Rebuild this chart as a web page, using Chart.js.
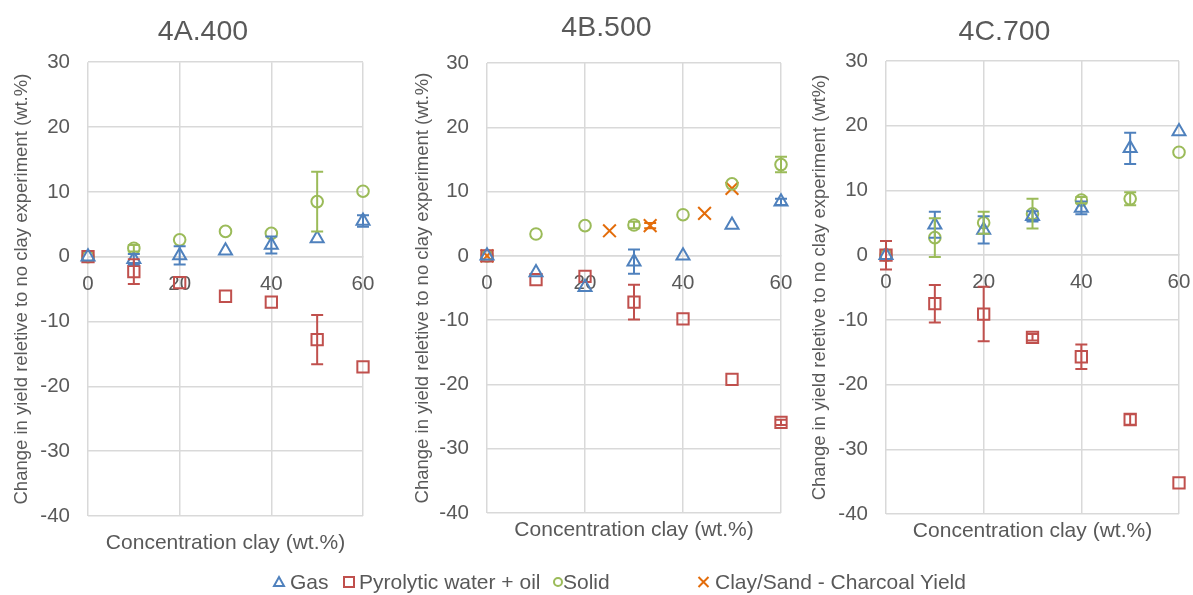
<!DOCTYPE html>
<html>
<head>
<meta charset="utf-8">
<script src="https://cdn.jsdelivr.net/npm/chart.js@4/dist/chart.umd.min.js"></script>
<style>
html, body { margin:0; padding:0; background:#fff; overflow:hidden; width:1193px; height:595px; position:relative; font-family:"Liberation Sans", Arial, sans-serif; }
canvas { position:absolute; top:0; }
#legend span { position:absolute; top:570px; font-size:21px; line-height:24px; color:#595959; white-space:nowrap; }
#legend svg { position:absolute; left:0; top:0; }
</style>
</head>
<body>
<canvas id="c400" width="390" height="560" style="left:8px"></canvas>
<canvas id="c500" width="387" height="560" style="left:413px"></canvas>
<canvas id="c700" width="389" height="560" style="left:810px"></canvas>
<div id="legend">
  <svg width="1193" height="595">
    <polygon points="274,586 284,586 279,577" fill="none" stroke="#4F81BD" stroke-width="2"/>
    <rect x="344" y="577" width="10" height="10" fill="none" stroke="#C0504D" stroke-width="2"/>
    <circle cx="558" cy="582" r="4" fill="none" stroke="#9BBB59" stroke-width="2"/>
    <path d="M698.5,577 L708.5,587 M708.5,577 L698.5,587" stroke="#E36C0A" stroke-width="2"/>
  </svg>
  <span style="left:290px">Gas</span>
  <span style="left:359px">Pyrolytic water + oil</span>
  <span style="left:563px">Solid</span>
  <span style="left:715px">Clay/Sand - Charcoal Yield</span>
</div>
<script>
// clay concentration (wt.%)
var clay = [0, 10, 20, 30, 40, 50, 60];

// 4A.400
var gas400 = [0, -0.4, 0.2, 0.9, 1.8, 2.8, 5.5];
var gasErr400 = [0, 0.8, 1.4, 0, 1.3, 0, 0.9];
var pyro400 = [0, -2.3, -4.0, -6.1, -7.0, -12.8, -17.0];
var pyroErr400 = [0, 1.9, 0, 0, 0, 3.8, 0];
var solid400 = [0, 1.3, 2.6, 3.9, 3.6, 8.5, 10.1];
var solidErr400 = [0, 0.5, 0, 0, 0, 4.6, 0];

// 4B.500
var gas500 = [0, -2.6, -4.9, -0.9, 0.0, 4.8, 8.4];
var gasErr500 = [0, 0, 0, 1.9, 0, 0, 0.5];
var pyro500 = [0, -3.7, -3.2, -7.2, -9.8, -19.2, -25.9];
var pyroErr500 = [0, 0, 0, 2.7, 0, 0, 0.4];
var solid500 = [0, 3.4, 4.7, 4.8, 6.4, 11.2, 14.2];
var solidErr500 = [0, 0, 0, 0.5, 0, 0, 1.2];
var charClay500 = [0, 25, 33.3, 44.4, 50];
var charYield500 = [0, 3.9, 4.7, 6.6, 10.5];
var charErr500 = [0, 0, 0.4, 0, 0];

// 4C.700
var gas700 = [0, 4.7, 3.9, 6.0, 7.3, 16.5, 19.1];
var gasErr700 = [0, 2.0, 2.1, 0.8, 1.0, 2.4, 0];
var pyro700 = [0, -7.5, -9.1, -12.7, -15.7, -25.4, -35.2];
var pyroErr700 = [2.2, 2.9, 4.2, 0.5, 1.9, 0.8, 0];
var solid700 = [0, 2.7, 5.0, 6.4, 8.5, 8.7, 15.9];
var solidErr700 = [0, 3.0, 1.7, 2.3, 0.5, 1.0, 0];

var yTicks = [-40, -30, -20, -10, 0, 10, 20, 30];
var xTicks = [0, 20, 40, 60];

var BLUE = '#4F81BD', RED = '#C0504D', GREEN = '#9BBB59', ORANGE = '#E36C0A';
var TEXT = '#595959', GRID = '#D9D9D9';
var FONT = '"Liberation Sans", Arial, sans-serif';

Chart.defaults.font.family = FONT;

// vertical error bars with caps, drawn on the chart's own scales
var errorBars = {
  id: 'errorBars',
  afterDatasetsDraw: function (chart) {
    var ctx = chart.ctx, xs = chart.scales.x, ys = chart.scales.y;
    chart.data.datasets.forEach(function (ds) {
      if (!ds.errors) return;
      ctx.save();
      ctx.strokeStyle = ds.borderColor;
      ctx.lineWidth = 2;
      ds.data.forEach(function (p, i) {
        var e = ds.errors[i];
        if (!e) return;
        var px = xs.getPixelForValue(p.x);
        var top = ys.getPixelForValue(p.y + e);
        var bot = ys.getPixelForValue(p.y - e);
        ctx.beginPath();
        ctx.moveTo(px, top); ctx.lineTo(px, bot);
        ctx.moveTo(px - 6, top); ctx.lineTo(px + 6, top);
        ctx.moveTo(px - 6, bot); ctx.lineTo(px + 6, bot);
        ctx.stroke();
      });
      ctx.restore();
    });
  }
};

function points(xs, ys) {
  return xs.map(function (x, i) { return {x: x, y: ys[i]}; });
}

function series(label, xs, ys, errs, color, style, radius) {
  return {
    label: label,
    data: points(xs, ys),
    errors: errs,
    borderColor: color,
    backgroundColor: 'rgba(0,0,0,0)',
    pointStyle: style,
    pointRadius: radius,
    pointHoverRadius: radius,
    pointBorderWidth: 2,
    showLine: false,
    clip: false
  };
}

function panel(id, p) {
  new Chart(document.getElementById(id), {
    type: 'scatter',
    data: { datasets: p.datasets },
    options: {
      responsive: false,
      animation: false,
      events: [],
      layout: { padding: 0 },
      plugins: {
        legend: { display: false },
        tooltip: { enabled: false },
        title: {
          display: true, text: p.title, color: TEXT,
          font: { size: 28.5, weight: 'normal', lineHeight: 1.2 },
          padding: { top: p.titleTop, bottom: p.titleBottom }
        }
      },
      scales: {
        x: {
          type: 'linear', min: 0, max: 60,
          position: { y: 0 },
          afterBuildTicks: function (s) { s.ticks = xTicks.map(function (v) { return {value: v}; }); },
          ticks: { color: TEXT, font: { size: 20.5 }, padding: 15, maxRotation: 0 },
          grid: { color: GRID, lineWidth: 1.5, drawTicks: false },
          border: { display: true, color: GRID, width: 1.5 },
          // the right-hand gap is set by the 'pad' axis, not by the last label
          afterFit: function (s) { s.paddingLeft = 0; s.paddingRight = 0; }
        },
        xt: {
          type: 'linear', min: 0, max: 60, position: 'bottom',
          ticks: { display: false },
          grid: { display: false },
          border: { display: false },
          title: {
            display: true, text: 'Concentration clay (wt.%)', color: TEXT,
            font: { size: 21, lineHeight: 1 }, padding: { top: 0, bottom: p.xTitleBottom }
          },
          afterFit: function (s) { s.height = p.xAxisHeight; }
        },
        y: {
          type: 'linear', min: -40, max: 30, position: 'left',
          afterBuildTicks: function (s) { s.ticks = yTicks.map(function (v) { return {value: v}; }); },
          ticks: { color: TEXT, font: { size: 20.5 }, padding: 18 },
          grid: { color: GRID, lineWidth: 1.5, drawTicks: false },
          border: { display: false },
          title: {
            display: true, text: p.yTitle, color: TEXT,
            font: { size: 18.5, lineHeight: 1 }, padding: { top: p.yTitleTop, bottom: 0 }
          },
          afterFit: function (s) { s.width = p.yAxisWidth; }
        },
        pad: {
          type: 'linear', position: 'right',
          ticks: { display: false },
          grid: { display: false },
          border: { display: false },
          afterFit: function (s) { s.width = p.rightPad; }
        }
      }
    },
    plugins: [errorBars]
  });
}

panel('c400', {
  title: '4A.400',
  yTitle: 'Change in yield reletive to no clay experiment (wt.%)',
  titleTop: 15, titleBottom: 13, yTitleTop: 4.75, yAxisWidth: 80, rightPad: 35,
  xAxisHeight: 44, xTitleBottom: 6,
  datasets: [
    series('Gas', clay, gas400, gasErr400, BLUE, 'triangle', 7.5),
    series('Pyrolytic water + oil', clay, pyro400, pyroErr400, RED, 'rect', 8),
    series('Solid', clay, solid400, solidErr400, GREEN, 'circle', 5.8)
  ]
});

panel('c500', {
  title: '4B.500',
  yTitle: 'Change in yield reletive to no clay experiment (wt.%)',
  titleTop: 10.7, titleBottom: 18.1, yTitleTop: 0.75, yAxisWidth: 74, rightPad: 19,
  xAxisHeight: 47, xTitleBottom: 19.5,
  datasets: [
    series('Gas', clay, gas500, gasErr500, BLUE, 'triangle', 7.5),
    series('Pyrolytic water + oil', clay, pyro500, pyroErr500, RED, 'rect', 8),
    series('Solid', clay, solid500, solidErr500, GREEN, 'circle', 5.8),
    series('Clay/Sand - Charcoal Yield', charClay500, charYield500, charErr500, ORANGE, 'crossRot', 9)
  ]
});

panel('c700', {
  title: '4C.700',
  yTitle: 'Change in yield reletive to no clay experiment (wt%)',
  titleTop: 14.6, titleBottom: 12.2, yTitleTop: 0.75, yAxisWidth: 76, rightPad: 20,
  xAxisHeight: 46, xTitleBottom: 17.8,
  datasets: [
    series('Gas', clay, gas700, gasErr700, BLUE, 'triangle', 7.5),
    series('Pyrolytic water + oil', clay, pyro700, pyroErr700, RED, 'rect', 8),
    series('Solid', clay, solid700, solidErr700, GREEN, 'circle', 5.8)
  ]
});
</script>
</body>
</html>
